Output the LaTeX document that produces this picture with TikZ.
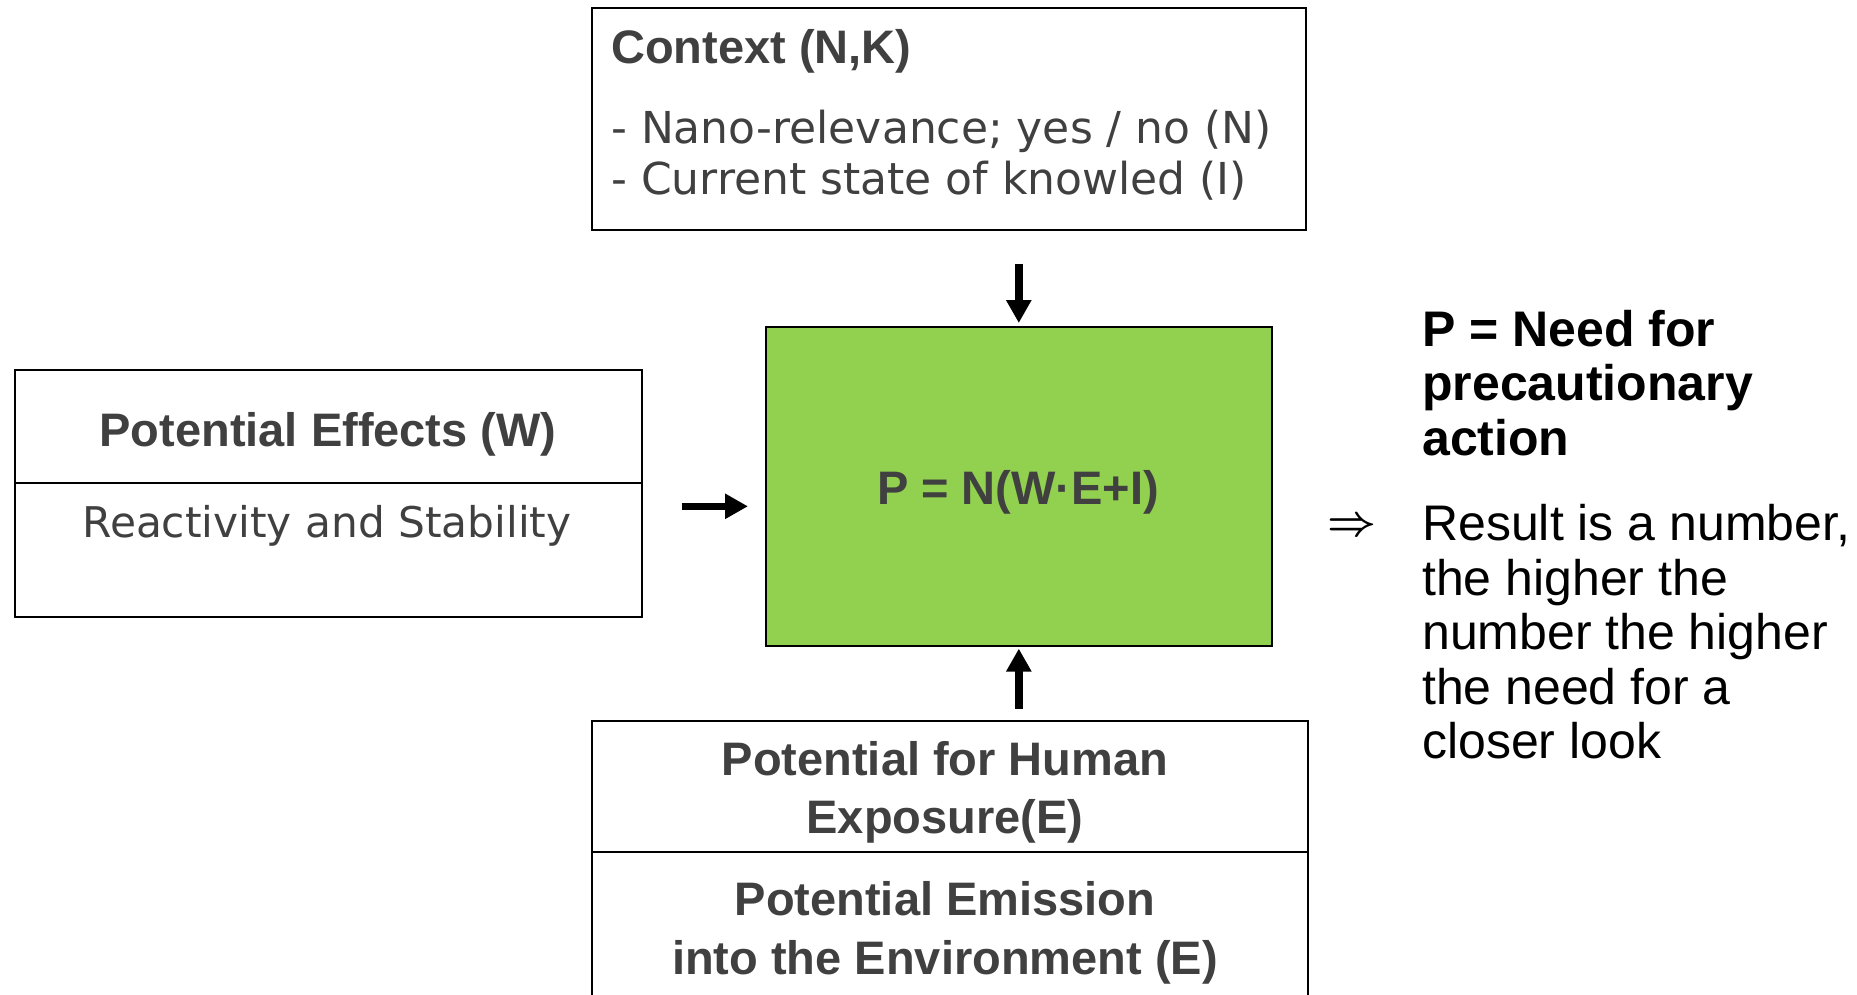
\documentclass[tikz,border=0pt]{standalone}
\usepackage{fontspec}
\usepackage{graphicx}
\setmainfont{Liberation Sans}
\newfontfamily\verd{DejaVu Sans}
\usetikzlibrary{arrows.meta}
\definecolor{txt}{HTML}{404040}
\definecolor{boxgreen}{HTML}{92D050}
\tikzset{
  box/.style={draw=black, line width=1.6pt, inner sep=0pt, anchor=north west},
  btitle/.style={font=\fontsize{47}{56}\selectfont\bfseries, text=txt, inner sep=0pt},
  bsub/.style={font=\fontsize{44}{52}\verd, text=txt, inner sep=0pt},
  rtext/.style={font=\fontsize{50}{55}\selectfont, text=black, inner sep=0pt, anchor=base west},
  arr/.style={line width=7.5pt, -{Triangle[width=24pt,length=23pt]}},
}
\begin{document}
\begin{tikzpicture}[x=1pt,y=1pt]
\useasboundingbox (0,0) rectangle (1857,-995);
\clip (0,0) rectangle (1857,-995);
\fill[white] (0,0) rectangle (1857,-995);

% boxes
\node[box, minimum width=714pt, minimum height=222pt] (ctx) at (591,-7) {};
\node[box, fill=boxgreen, minimum width=506pt, minimum height=319pt] (green) at (765,-326) {};
\node[box, minimum width=627pt, minimum height=247pt] (left) at (14,-369) {};
\node[box, minimum width=716pt, minimum height=300pt] (bot) at (591,-720) {};

% dividers
\draw[line width=1.6pt] (left.west |- 0,-483) -- (left.east |- 0,-483);
\draw[line width=1.6pt] (bot.west |- 0,-852) -- (bot.east |- 0,-852);

% context texts
\node[btitle, anchor=base west] (ctxtitle) at (611,-64) {Context (N,K)};
\node[bsub, anchor=base west] (ctxl1) at (611,-144) {- Nano-relevance; yes / no (N)};
\node[bsub, anchor=base west] (ctxl2) at (611,-195) {- Current state of knowled (I)};

% formula
\node[btitle, anchor=base] (formula) at (1018,-504) {P = N(W·E+I)};

% left texts
\node[btitle, anchor=base] (lefttitle) at (328,-446) {Potential Effects (W)};
\node[bsub, font=\fontsize{42.3}{50}\verd, anchor=base] (leftsub) at (327,-537) {Reactivity and Stability};

% bottom texts
\node[btitle, anchor=base] (b1) at (945,-775) {Potential for Human};
\node[btitle, anchor=base] (b2) at (945,-833) {Exposure(E)};
\node[btitle, anchor=base] (b3) at (945,-915) {Potential Emission};
\node[btitle, anchor=base] (b4) at (945,-974) {into the Environment (E)};

% right texts
\node[rtext, font=\fontsize{50}{55}\selectfont\bfseries] (r1) at (1422,-346) {P = Need for};
\node[rtext, font=\fontsize{50}{55}\selectfont\bfseries] (r2) at (1422,-400.5) {precautionary};
\node[rtext, font=\fontsize{50}{55}\selectfont\bfseries] (r3) at (1422,-455) {action};
\node[inner sep=0pt] (impl) at (1352,-527) {\resizebox{49pt}{!}{\boldmath$\Rightarrow$}};
\node[rtext] (r4) at (1422,-540) {Result is a number,};
\node[rtext] (r5) at (1422,-595) {the higher the};
\node[rtext] (r6) at (1422,-649) {number the higher};
\node[rtext] (r7) at (1422,-704) {the need for a};
\node[rtext] (r8) at (1422,-758) {closer look};

% arrows
\draw[arr, shorten <=33pt, shorten >=3pt] (ctx.south -| green.north) -- (green.north);
\draw[arr, shorten <=11pt, shorten >=2pt] (bot.north -| green.south) -- (green.south);
\draw[arr, shorten <=39pt, shorten >=17pt] ([yshift=-13pt]left.east) -- ([yshift=-13pt]left.east -| green.west);
\end{tikzpicture}
\end{document}
